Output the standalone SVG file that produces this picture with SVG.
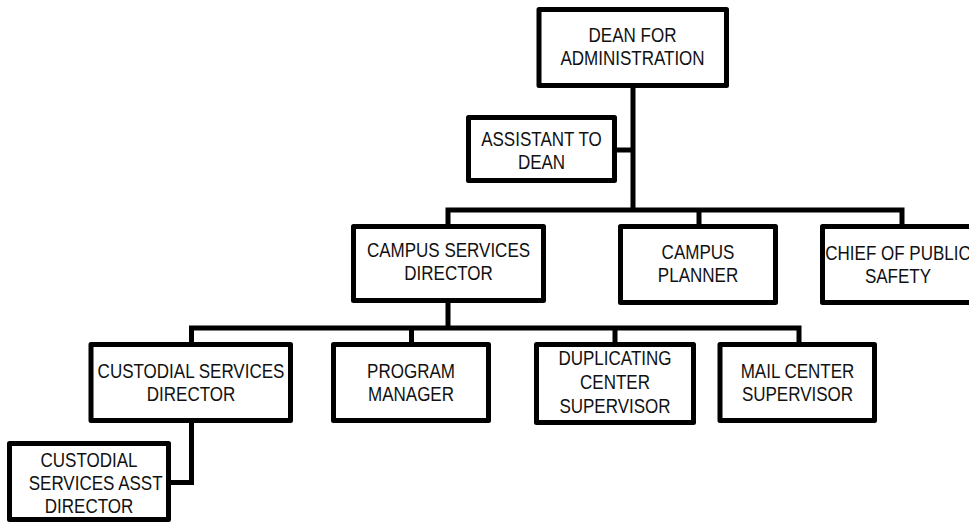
<svg xmlns="http://www.w3.org/2000/svg" width="969" height="525" viewBox="0 0 969 525">
<style>
.box{fill:#fff;stroke:#000;stroke-width:5;stroke-linejoin:round}
.ln{fill:none;stroke:#000;stroke-width:5;stroke-linejoin:miter}
.t{font-family:"Liberation Sans",Arial,sans-serif;font-size:20.5px;fill:#111;text-anchor:middle}
</style>
<rect width="969" height="525" fill="#fff"/>
<g id="connectors">
<path class="ln" d="M633,88 V210"/>
<path class="ln" d="M617,150 H633"/>
<path class="ln" d="M448,225 V210 H902 V225"/>
<path class="ln" d="M699,210 V225"/>
<path class="ln" d="M448,303 V328"/>
<path class="ln" d="M191.5,343 V328 H799 V343"/>
<path class="ln" d="M411.5,328 V343"/>
<path class="ln" d="M615,328 V343"/>
<path class="ln" d="M191.5,422 V482.5 H168"/>
</g>
<g id="dean">
<rect class="box" x="539" y="9.5" width="187.5" height="76"/>
<text class="t" transform="translate(632.5 0) scale(0.83 1)"><tspan x="0" y="42">DEAN FOR</tspan><tspan x="0" y="65">ADMINISTRATION</tspan></text>
</g>
<g id="assistant">
<rect class="box" x="468.5" y="117.5" width="146" height="63"/>
<text class="t" transform="translate(541.5 0) scale(0.83 1)"><tspan x="0" y="146">ASSISTANT TO</tspan><tspan x="0" y="169">DEAN</tspan></text>
</g>
<g id="campus-services">
<rect class="box" x="353.5" y="226.5" width="190" height="74"/>
<text class="t" transform="translate(448.5 0) scale(0.83 1)"><tspan x="0" y="257">CAMPUS SERVICES</tspan><tspan x="0" y="280">DIRECTOR</tspan></text>
</g>
<g id="campus-planner">
<rect class="box" x="620.5" y="226.5" width="155" height="76"/>
<text class="t" transform="translate(698 0) scale(0.83 1)"><tspan x="0" y="259">CAMPUS</tspan><tspan x="0" y="282">PLANNER</tspan></text>
</g>
<g id="chief">
<rect class="box" x="822.5" y="226.5" width="155" height="76"/>
<text class="t" transform="translate(898 0) scale(0.83 1)"><tspan x="0" y="260">CHIEF OF PUBLIC</tspan><tspan x="0" y="283">SAFETY</tspan></text>
</g>
<g id="custodial-director">
<rect class="box" x="91" y="344.5" width="199.5" height="76"/>
<text class="t" transform="translate(191 0) scale(0.83 1)"><tspan x="0" y="378">CUSTODIAL SERVICES</tspan><tspan x="0" y="401">DIRECTOR</tspan></text>
</g>
<g id="program-manager">
<rect class="box" x="333.5" y="344.5" width="155" height="76"/>
<text class="t" transform="translate(411 0) scale(0.83 1)"><tspan x="0" y="378">PROGRAM</tspan><tspan x="0" y="401">MANAGER</tspan></text>
</g>
<g id="duplicating">
<rect class="box" x="536.5" y="344.5" width="157" height="78"/>
<text class="t" transform="translate(615 0) scale(0.83 1)"><tspan x="0" y="365">DUPLICATING</tspan><tspan x="0" y="389">CENTER</tspan><tspan x="0" y="413">SUPERVISOR</tspan></text>
</g>
<g id="mail-center">
<rect class="box" x="720" y="344.5" width="154.5" height="76"/>
<text class="t" transform="translate(797.5 0) scale(0.83 1)"><tspan x="0" y="378">MAIL CENTER</tspan><tspan x="0" y="401">SUPERVISOR</tspan></text>
</g>
<g id="custodial-asst">
<rect class="box" x="9.5" y="443.5" width="159" height="76"/>
<text class="t" transform="translate(89 0) scale(0.83 1)"><tspan x="0" y="467">CUSTODIAL</tspan><tspan x="8" y="490">SERVICES ASST</tspan><tspan x="0" y="513">DIRECTOR</tspan></text>
</g>
</svg>
